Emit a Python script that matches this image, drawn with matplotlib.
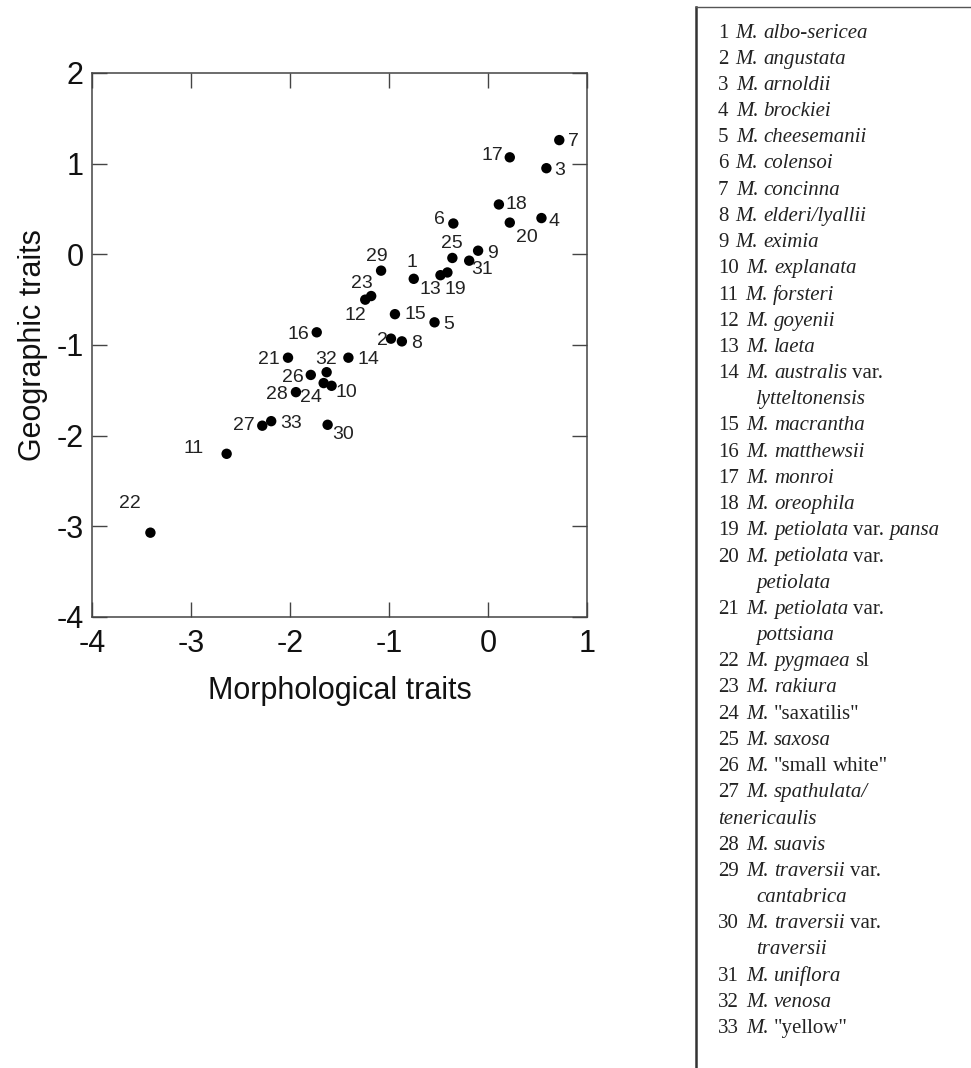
import numpy as np
import matplotlib
matplotlib.use("Agg")
import matplotlib.pyplot as plt
from matplotlib.lines import Line2D

plt.rcParams["axes.unicode_minus"] = False

W, H = 971, 1068

# taxon numbers and their scores on the two axes
taxon_ids = list(range(1, 34))
morph = [-0.75, -0.98, 0.59, 0.54, -0.54, -0.35, 0.72, -0.87, -0.10, -1.58,
         -2.64, -1.24, -0.48, -1.41, -0.94, -1.73, 0.22, 0.11, -0.41, 0.22,
         -2.02, -3.41, -1.18, -1.66, -0.36, -1.79, -2.28, -1.94, -1.08, -1.62,
         -0.19, -1.63, -2.19]
geog = [-0.27, -0.93, 0.95, 0.40, -0.75, 0.34, 1.26, -0.96, 0.04, -1.45,
        -2.20, -0.50, -0.23, -1.14, -0.66, -0.86, 1.07, 0.55, -0.20, 0.35,
        -1.14, -3.07, -0.46, -1.42, -0.04, -1.33, -1.89, -1.52, -0.18, -1.88,
        -0.07, -1.30, -1.84]

# where each number sits relative to its dot (pixels, y up)
label_dx = [-2, -9, 13, 13, 14, -14, 14, 15, 14, 15,
            -33, -10, -10, 20, 20, -18, -17, 17, 8, 17,
            -19, -21, -9, -13, 0, -18, -18, -19, -4, 15,
            13, -1, 20]
label_dy = [16, -2, -2, -3, -2, 4, -1, -2, -3, -7,
            5, -16, -14, -2, 0, -2, 2, 0, -17, -15,
            -2, 29, 13, -14, 14, -3, 0, -2, 14, -10,
            -9, 13, -2]

# species key; *...* is italic, | starts a wrapped line, < means no indent
species = [
    "*M. albo-sericea*",
    "*M. angustata*",
    "*M. arnoldii*",
    "*M. brockiei*",
    "*M. cheesemanii*",
    "*M. colensoi*",
    "*M. concinna*",
    "*M. elderi/lyallii*",
    "*M. eximia*",
    "*M. explanata*",
    "*M. forsteri*",
    "*M. goyenii*",
    "*M. laeta*",
    "*M. australis* var.|*lytteltonensis*",
    "*M. macrantha*",
    "*M. matthewsii*",
    "*M. monroi*",
    "*M. oreophila*",
    "*M. petiolata* var. *pansa*",
    "*M. petiolata* var.|*petiolata*",
    "*M. petiolata* var.|*pottsiana*",
    "*M. pygmaea* sl",
    "*M. rakiura*",
    '*M.* "saxatilis"',
    "*M. saxosa*",
    '*M.* "small white"',
    "*M. spathulata/*|<*tenericaulis*",
    "*M. suavis*",
    "*M. traversii* var.|*cantabrica*",
    "*M. traversii* var.|*traversii*",
    "*M. uniflora*",
    "*M. venosa*",
    '*M.* "yellow"',
]

fig = plt.figure(figsize=(W / 100, H / 100), dpi=100)
fig.patch.set_facecolor("white")

ax = fig.add_axes([92 / W, 1 - 617 / H, 495 / W, 544 / H])
ax.scatter(morph, geog, s=56, color="black", zorder=3, edgecolors="none")
for i, n in enumerate(taxon_ids):
    ax.annotate(str(n), (morph[i], geog[i]), xytext=(label_dx[i], label_dy[i]),
                textcoords="offset pixels", ha="center", va="center",
                fontsize=14, family="Liberation Sans", color="#222222")

ax.set_xlim(-4, 1)
ax.set_ylim(-4, 2)
ax.set_xticks(np.arange(-4, 2, 1))
ax.set_yticks(np.arange(-4, 3, 1))
ax.tick_params(direction="in", length=11, width=1, colors="#444444",
               top=True, right=True, labelsize=22, labelcolor="#111111")
ax.tick_params(axis="x", pad=9)
ax.tick_params(axis="y", pad=6)
for lab in ax.get_xticklabels() + ax.get_yticklabels():
    lab.set_family("Liberation Sans")
for sp in ax.spines.values():
    sp.set_color("#444444")
    sp.set_linewidth(1.1)

ax.set_xlabel("Morphological traits", fontsize=22, family="Liberation Sans",
              color="#111111", labelpad=12)
ax.set_ylabel("Geographic traits", fontsize=22, family="Liberation Sans",
              color="#111111", labelpad=6)

# key box on the right
fig.add_artist(Line2D([696 / W, 696 / W], [0, 1 - 7 / H], color="#333333",
                      linewidth=1.8, transform=fig.transFigure))
fig.add_artist(Line2D([696 / W, 1], [1 - 7 / H, 1 - 7 / H], color="#555555",
                      linewidth=1.0, transform=fig.transFigure))

renderer = fig.canvas.get_renderer()
key_font = dict(family="Liberation Serif", fontsize=15, color="#222222",
                va="center", ha="left")
probe = fig.text(0, 0, "a a", **key_font)
probe2 = fig.text(0, 0, "aa", **key_font)
space_px = probe.get_window_extent(renderer).width - probe2.get_window_extent(renderer).width
probe.remove()
probe2.remove()


def words(markup):
    out = []
    for j, part in enumerate(markup.split("*")):
        for w in part.split():
            out.append((w, j % 2 == 1))
    return out


def draw_words(x, y, items):
    for w, italic in items:
        t = fig.text(x / W, 1 - y / H, w, fontstyle="italic" if italic else "normal",
                     **key_font)
        x += t.get_window_extent(renderer).width + space_px
    return x


num_x = 718
indent_x = 756
row_h = 26.2
row = 0
for n, name in zip(taxon_ids, species):
    lines = name.split("|")
    y = 33 + row * row_h
    t = fig.text(num_x / W, 1 - y / H, str(n), **key_font)
    x0 = num_x + t.get_window_extent(renderer).width + space_px + 2
    draw_words(x0, y, words(lines[0]))
    row += 1
    for extra in lines[1:]:
        y = 33 + row * row_h
        if extra.startswith("<"):
            draw_words(num_x, y, words(extra[1:]))
        else:
            draw_words(indent_x, y, words(extra))
        row += 1

fig.savefig("out.png", dpi=100)
